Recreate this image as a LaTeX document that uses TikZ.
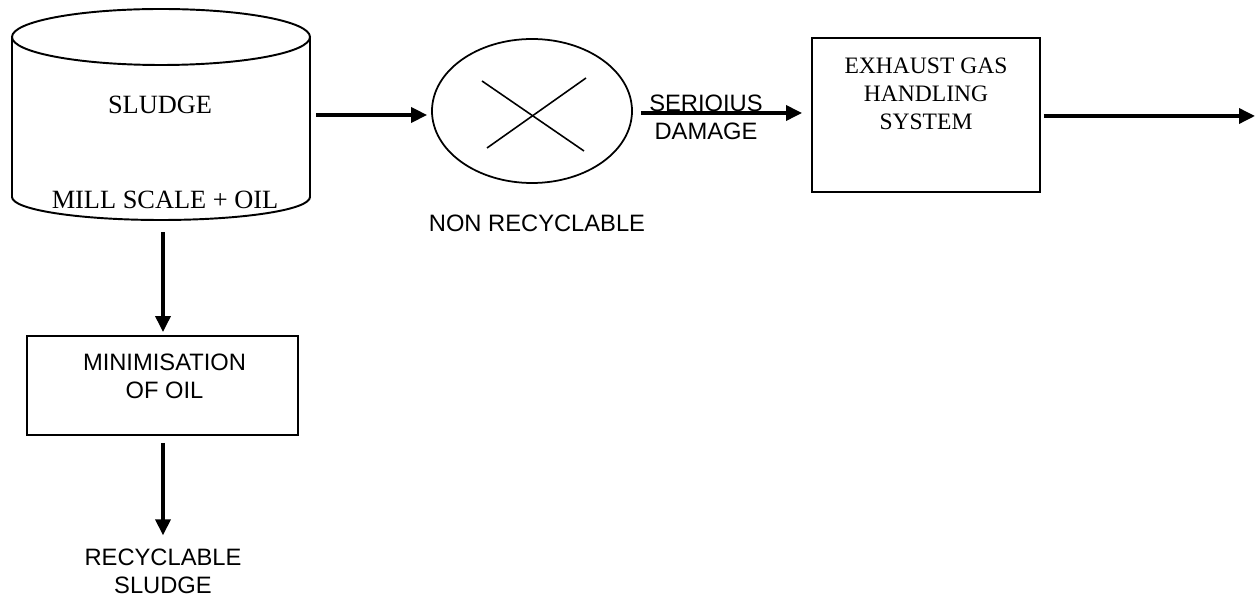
\documentclass[tikz,border=0pt]{standalone}
\usepackage{fontspec}
\setmainfont{Liberation Serif}
\setsansfont{Liberation Sans}
\usetikzlibrary{shapes.geometric,arrows.meta,positioning,calc}

\tikzset{
    flow/.style={->, line width=2pt},
    box/.style={draw, line width=1.1pt, inner sep=0pt},
    sanslbl/.style={font=\sffamily\fontsize{13.5}{16}\selectfont, align=center},
    seriflbl/.style={font=\rmfamily\fontsize{15}{17}\selectfont, align=center},
}

\begin{document}
\begin{tikzpicture}[>={Triangle[length=3.2mm,width=3mm]}]
        \useasboundingbox (0,0) rectangle (25.1,11.92);

        % sludge tank (cylinder)
        \node[inner sep=0, minimum width=5.96cm, minimum height=4.22cm] (tank) at (3.22,9.63) {};
        \draw[line width=1.1pt] (0.24,11.18) -- (0.24,7.98)
            arc[start angle=180, end angle=360, x radius=2.98, y radius=0.46] -- (6.20,11.18);
        \draw[line width=1.1pt] (3.22,11.18) ellipse[x radius=2.98, y radius=0.56];
        \node[seriflbl] (sludgetxt) at (3.2,9.82) {SLUDGE};
        \node[seriflbl] (milltxt) at (3.3,7.92) {MILL SCALE + OIL};

        % non recyclable route
        \node[draw, ellipse, line width=1pt, inner sep=0, minimum width=4cm, minimum height=2.88cm] (nonrec) at (10.64,9.70) {};
        \draw[line width=0.9pt] ($(nonrec)+(-1.0,0.6)$) -- ($(nonrec)+(1.04,-0.8)$);
        \draw[line width=0.9pt] ($(nonrec)+(1.08,0.66)$) -- ($(nonrec)+(-0.9,-0.74)$);
        \node[sanslbl] (nonrectxt) at (10.74,7.46) {NON RECYCLABLE};

        \node[box, minimum width=4.56cm, minimum height=3.08cm] (exhaust) at (18.52,9.62) {};
        \node[seriflbl, font=\rmfamily\fontsize{13.4}{16}\selectfont] (exhausttxt) at (18.52,10.04) {EXHAUST GAS\\HANDLING\\SYSTEM};
        \coordinate (exit) at (25.1,9.6);

        \draw[flow, shorten <=0.12cm, shorten >=0.08cm] (tank.east |- 0,9.62) -- (nonrec.west |- 0,9.62);
        \draw[flow, shorten <=0.16cm, shorten >=0.18cm] (nonrec.east |- 0,9.66) -- (exhaust.west |- 0,9.66);
        \node[sanslbl] (damagetxt) at (14.12,9.57) {SERIOIUS\\DAMAGE};
        \draw[flow, shorten <=0.06cm] (exhaust.east |- exit) -- (exit);

        % recyclable route
        \node[box, minimum width=5.42cm, minimum height=1.98cm] (minim) at (3.25,4.21) {};
        \node[sanslbl] (minimtxt) at (3.29,4.4) {MINIMISATION\\OF OIL};
        \node[sanslbl] (recyc) at (3.26,0.5) {RECYCLABLE\\SLUDGE};

        \draw[flow, shorten <=0.24cm, shorten >=0.06cm] (tank.south -| 3.26,0) -- (minim.north -| 3.26,0);
        \draw[flow, shorten <=0.14cm, shorten >=0.14cm] (minim.south -| 3.26,0) -- (recyc.north);
    \end{tikzpicture}
\end{document}
